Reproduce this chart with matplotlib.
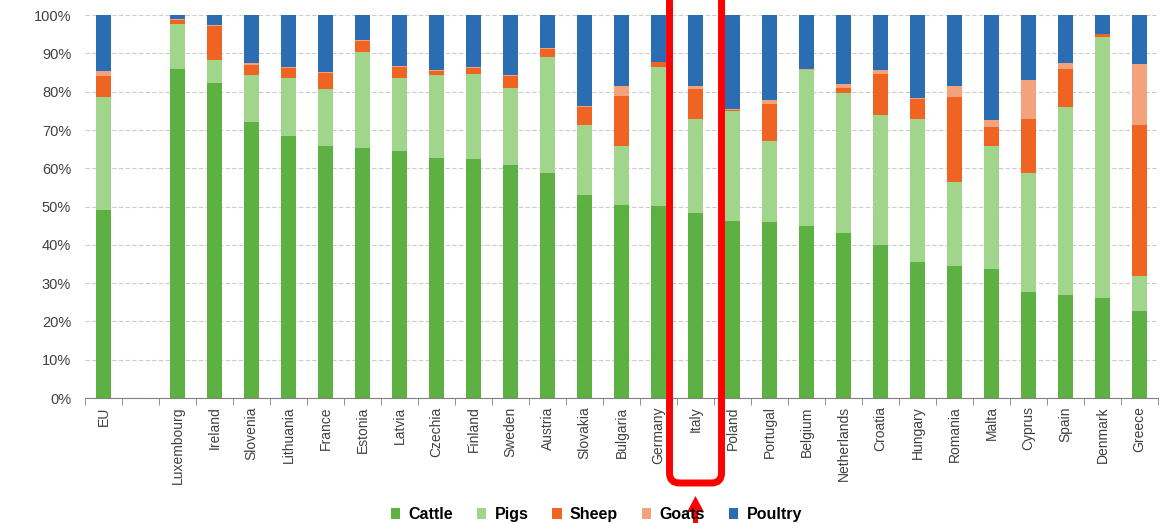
import numpy as np
import matplotlib
matplotlib.use("Agg")
import matplotlib.pyplot as plt
from matplotlib.patches import FancyBboxPatch, FancyArrow
from matplotlib.transforms import IdentityTransform

plt.rcParams['font.family'] = ['Liberation Sans', 'DejaVu Sans']

countries = ["EU", "", "Luxembourg", "Ireland", "Slovenia", "Lithuania", "France",
             "Estonia", "Latvia", "Czechia", "Finland", "Sweden", "Austria", "Slovakia",
             "Bulgaria", "Germany", "Italy", "Poland", "Portugal", "Belgium",
             "Netherlands", "Croatia", "Hungary", "Romania", "Malta", "Cyprus",
             "Spain", "Denmark", "Greece"]

# share of livestock units, %
cattle = [49.0, 0, 86.0, 82.4, 72.2, 68.5, 65.7, 65.4, 64.5, 62.7, 62.3, 60.9, 58.7, 52.9,
          50.4, 50.2, 48.4, 46.3, 46.0, 44.8, 43.0, 39.9, 35.5, 34.6, 33.7, 27.7,
          27.0, 26.1, 22.6]
pigs = [29.5, 0, 11.8, 6.0, 12.3, 15.2, 14.9, 25.0, 19.2, 21.7, 22.3, 20.1, 30.3, 18.3,
        15.5, 36.2, 24.6, 28.6, 21.1, 40.8, 36.7, 33.9, 37.5, 21.7, 32.1, 31.0,
        49.1, 68.3, 9.2]
sheep = [5.7, 0, 0.9, 8.8, 2.6, 2.6, 4.2, 2.9, 2.7, 1.1, 1.7, 3.2, 2.1, 4.9,
         12.9, 1.3, 7.7, 0.3, 9.6, 0.2, 1.4, 10.8, 5.2, 22.3, 5.1, 14.3,
         9.9, 0.6, 39.4]
goats = [1.3, 0, 0.2, 0.2, 0.5, 0.2, 0.4, 0.3, 0.3, 0.2, 0.2, 0.1, 0.2, 0.2,
         2.6, 0.1, 0.8, 0.2, 1.2, 0.2, 1.0, 1.2, 0.1, 2.9, 1.7, 10.0,
         1.5, 0.1, 16.1]
poultry = [14.5, 0, 1.1, 2.6, 12.4, 13.5, 14.8, 6.4, 13.3, 14.3, 13.5, 15.7, 8.7, 23.7,
           18.6, 12.2, 18.5, 24.6, 22.1, 14.0, 17.9, 14.2, 21.7, 18.5, 27.4, 17.0,
           12.5, 4.9, 12.7]

series = [("Cattle", cattle, "#5db142"),
          ("Pigs", pigs, "#a1d58b"),
          ("Sheep", sheep, "#ef6422"),
          ("Goats", goats, "#f4a27c"),
          ("Poultry", poultry, "#2a6db3")]

fig = plt.figure(figsize=(11.76, 5.23), dpi=100)
ax = fig.add_axes([0.0723, 0.239, 0.9124, 0.732])

x = np.arange(len(countries))
bottom = np.zeros(len(countries))
for name, vals, col in series:
    vals = np.array(vals)
    ax.bar(x, vals, 0.4, bottom=bottom, color=col, label=name, zorder=2)
    bottom += vals

ax.set_xlim(-0.5, len(countries) - 0.5)
ax.set_ylim(0, 100)
ax.set_yticks(np.arange(0, 101, 10))
ax.set_yticklabels([f"{v}%" for v in range(0, 101, 10)], fontsize=10.5, color="#404040")
ax.set_xticks(x)
ax.set_xticklabels(countries, rotation=90, fontsize=10, color="#404040")
ax.set_xticks(np.arange(-0.5, len(countries), 1), minor=True)
ax.tick_params(axis="x", which="major", length=0, pad=6)
ax.tick_params(axis="x", which="minor", length=5, color="#808080", direction="out")
ax.tick_params(axis="y", length=0, pad=10)
ax.yaxis.grid(True, linestyle=(0, (4, 2)), color="#cccccc", linewidth=0.8, zorder=0)
for s in ["left", "right", "top"]:
    ax.spines[s].set_visible(False)
ax.spines["bottom"].set_color("#808080")

fig.legend(loc="center", bbox_to_anchor=(0.507, 0.016), ncol=5, frameon=False,
           handlelength=0.6, handleheight=0.6, columnspacing=1.5, handletextpad=0.5,
           prop={"weight": "bold", "size": 11.5})

# red frame and arrow pointing at Italy
fig.canvas.draw()
italy = countries.index("Italy")
xc = ax.transData.transform((italy, 0))[0]
box = FancyBboxPatch((xc - 26, 40), 52, 520, boxstyle="round,pad=0,rounding_size=10",
                     fill=False, edgecolor="#ff0000", linewidth=5,
                     transform=IdentityTransform(), clip_on=False)
fig.patches.append(box)
arrow = FancyArrow(xc, -5, 0, 32, width=5, head_width=17, head_length=16,
                   length_includes_head=True, color="#ff0000", linewidth=0,
                   transform=IdentityTransform())
fig.patches.append(arrow)

fig.savefig("out.png", dpi=100)
